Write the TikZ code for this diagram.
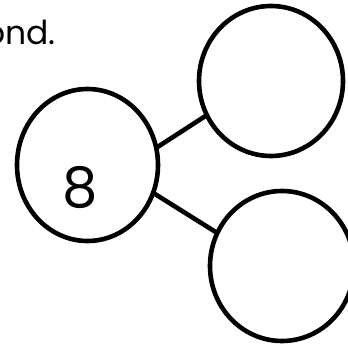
\documentclass[tikz,border=0pt]{standalone}
\usepackage{fontspec}
\setmainfont{Poppins}
\usetikzlibrary{shapes.geometric}
\begin{document}
\begin{tikzpicture}[x=1pt,y=-1pt,
  bubble/.style={ellipse,draw=black,line width=4.6pt,minimum width=144pt,minimum height=150pt,inner sep=0pt,outer sep=0pt},
  link/.style={line width=4.6pt},
  numtxt/.style={font=\fontsize{56}{56}\selectfont,inner sep=0pt},
  captxt/.style={font=\fontsize{33}{33}\selectfont,inner sep=0pt,anchor=base east}]
\useasboundingbox (0,0) rectangle (348,347);
\node[bubble,minimum width=141pt,minimum height=152pt] (whole) at (87.5,165) {};
\node[numtxt] (num) at (80,188) {8};
\node[bubble] (top) at (271,81) {};
\node[bubble] (bot) at (282,266) {};
\draw[link] (whole.14) -- (top.208);
\draw[link] (whole.-23) -- (bot.153);
\node[captxt] (cap) at (56,45) {ond.};
\end{tikzpicture}
\end{document}
